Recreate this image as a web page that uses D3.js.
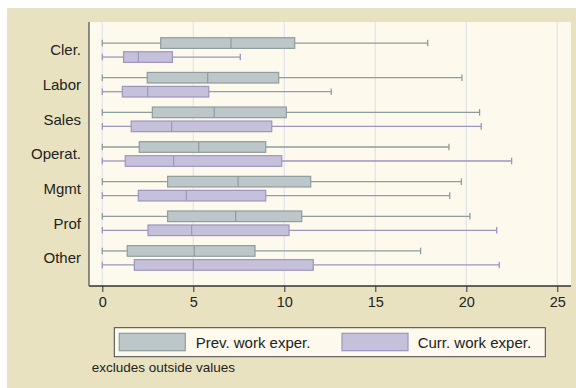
<!DOCTYPE html>
<html><head><meta charset="utf-8">
<script src="https://cdn.jsdelivr.net/npm/d3@7"></script>
<style>body{margin:0;background:#fff}svg{display:block}text{font-family:"Liberation Sans",Arial,sans-serif;fill:#222}</style>
</head><body><svg id="c" width="576" height="388"></svg>
<script>
const categories = ["Cler.","Labor","Sales","Operat.","Mgmt","Prof","Other"];
const series = ["Prev. work exper.","Curr. work exper."];
// [min, q1, median, q3, max]
const prevStats = [
  [0,3.21,7.07,10.57,17.88],
  [0,2.47,5.79,9.69,19.76],
  [0,2.75,6.15,10.11,20.73],
  [0,2.03,5.30,8.98,19.05],
  [0,3.59,7.46,11.45,19.73],
  [0,3.59,7.33,10.96,20.20],
  [0,1.37,5.05,8.39,17.49]
];
const currStats = [
  [0,1.17,1.98,3.85,7.58],
  [0,1.10,2.49,5.85,12.58],
  [0,1.59,3.81,9.31,20.82],
  [0,1.26,3.92,9.86,22.49],
  [0,1.98,4.62,8.98,19.09],
  [0,2.51,4.91,10.26,21.67],
  [0,1.76,5.00,11.59,21.81]
];
const xTicks = [0,5,10,15,20,25];
const note = "excludes outside values";

const svg = d3.select("#c");
const fills = ["#bdc7ca","#c6c1da"], strokes = ["#8d9c9c","#9d94bf"];
svg.append("rect").attr("x",7).attr("y",8).attr("width",569).attr("height",380).attr("fill","#e8e2c1");
const L=89,R=571,T=22,B=286;
svg.append("rect").attr("x",L).attr("y",T).attr("width",R-L).attr("height",B-T).attr("fill","#fdf9ed");
const x = d3.scaleLinear().domain([0,25]).range([102.3,557.3]);
const y = d3.scalePoint().domain(categories).range([T,B]).padding(0.81);
const sub = d3.scalePoint().domain(series).range([-7,7]);

svg.append("g").selectAll("line").data(xTicks).join("line")
  .attr("x1",d=>x(d)).attr("x2",d=>x(d)).attr("y1",T).attr("y2",B)
  .attr("stroke","#e3e2ee").attr("stroke-width",1.2);

const data=[];
categories.forEach((c,i)=>{ [prevStats,currStats].forEach((s,j)=>data.push({c,j,s:s[i],yy:y(c)+sub(series[j])})); });
const g = svg.append("g").selectAll("g").data(data).join("g");
g.append("line").attr("x1",d=>x(d.s[0])).attr("x2",d=>x(d.s[1])).attr("y1",d=>d.yy).attr("y2",d=>d.yy).attr("stroke",d=>strokes[d.j]).attr("stroke-width",1.3);
g.append("line").attr("x1",d=>x(d.s[3])).attr("x2",d=>x(d.s[4])).attr("y1",d=>d.yy).attr("y2",d=>d.yy).attr("stroke",d=>strokes[d.j]).attr("stroke-width",1.3);
g.append("line").attr("x1",d=>x(d.s[0])).attr("x2",d=>x(d.s[0])).attr("y1",d=>d.yy-3.3).attr("y2",d=>d.yy+3.3).attr("stroke",d=>strokes[d.j]).attr("stroke-width",1.3);
g.append("line").attr("x1",d=>x(d.s[4])).attr("x2",d=>x(d.s[4])).attr("y1",d=>d.yy-3.3).attr("y2",d=>d.yy+3.3).attr("stroke",d=>strokes[d.j]).attr("stroke-width",1.3);
g.append("rect").attr("x",d=>x(d.s[1])).attr("y",d=>d.yy-5.3).attr("width",d=>x(d.s[3])-x(d.s[1])).attr("height",10.6)
  .attr("fill",d=>fills[d.j]).attr("stroke",d=>strokes[d.j]).attr("stroke-width",1.2);
g.append("line").attr("x1",d=>x(d.s[2])).attr("x2",d=>x(d.s[2])).attr("y1",d=>d.yy-5.3).attr("y2",d=>d.yy+5.3).attr("stroke",d=>strokes[d.j]).attr("stroke-width",1.2);

// axes
const xa = svg.append("g").attr("transform",`translate(0,${B})`).call(d3.axisBottom(x).tickValues(xTicks).tickSize(6).tickPadding(5));
xa.select(".domain").remove();
xa.selectAll("line").attr("stroke","#333");
xa.selectAll("text").attr("font-size","14.5px").attr("fill","#222").style("font-family","Liberation Sans, Arial, sans-serif");
svg.append("line").attr("x1",L).attr("x2",R).attr("y1",B).attr("y2",B).attr("stroke","#333").attr("stroke-width",1.3);
svg.append("line").attr("x1",L).attr("x2",L).attr("y1",T).attr("y2",B).attr("stroke","#555").attr("stroke-width",1.3);
svg.append("g").selectAll("text").data(categories).join("text")
  .attr("x",81).attr("y",d=>y(d)).attr("dy","0.36em").attr("text-anchor","end").attr("font-size","15px").text(d=>d);

// legend
svg.append("rect").attr("x",114.3).attr("y",327.7).attr("width",431).attr("height",29).attr("fill","#fdf9ed").attr("stroke","#444").attr("stroke-width",1);
const lx=[119.3,342], tx=[195.7,417.7];
series.forEach((s,j)=>{
  svg.append("rect").attr("x",lx[j]).attr("y",333.3).attr("width",66).attr("height",17.4).attr("fill",fills[j]).attr("stroke",strokes[j]).attr("stroke-width",1.2);
  svg.append("text").attr("x",tx[j]).attr("y",342.3).attr("dy","0.36em").attr("font-size","15px").text(s);
});
svg.append("text").attr("x",91.7).attr("y",372).attr("font-size","13.5px").text(note);
</script></body></html>
